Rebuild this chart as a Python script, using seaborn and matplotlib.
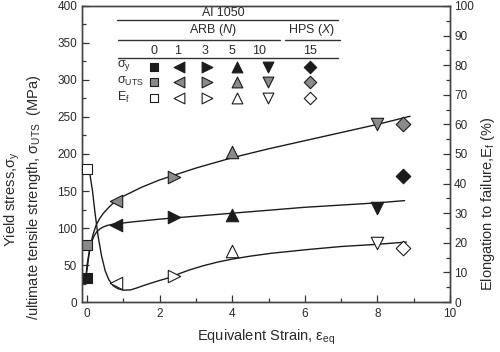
import numpy as np
import pandas as pd
import matplotlib
matplotlib.use("Agg")
import matplotlib.pyplot as plt
import matplotlib.transforms as mtransforms
import seaborn as sns

# ---------------- data ----------------
strain_pts = [0.0, 0.8, 2.4, 4.0, 8.0, 8.7]
pt_labels = ["0", "1", "3", "5", "10", "15"]
sigma_y = [32, 104, 115, 117, 127, 170]
sigma_uts = [77, 136, 169, 203, 241, 241]
elong = [45, 6.4, 8.8, 17.2, 20.0, 18.2]   # % (right axis)

sy_fit_x = [-0.05, 0.0, 0.04, 0.08, 0.13, 0.2, 0.27, 0.36, 0.45, 0.56, 0.7, 0.85, 1.2, 2.0, 3.0, 4.0, 5.0, 6.0, 7.0, 8.0, 8.75]
sy_fit_y = [30, 44, 60, 72, 82, 90, 95, 99, 101.5, 103.5, 105, 106, 108, 112, 116, 120, 124, 128, 131, 134, 137]

uts_fit_x = [-0.02, 0.0, 0.05, 0.1, 0.17, 0.25, 0.35, 0.45, 0.6, 0.75, 1.0, 1.5, 2.0, 2.5, 3.0, 4.0, 5.0, 6.0, 7.0, 8.0, 8.9]
uts_fit_y = [40, 50, 65, 79, 92, 104, 113, 120, 128, 135, 143, 155, 165, 173, 181, 195, 207, 218, 229, 240, 251]

ef_fit_x = [0.0, 0.08, 0.15, 0.22, 0.3, 0.4, 0.5, 0.6, 0.72, 0.85, 1.0, 1.2, 1.37, 1.6, 1.92, 2.2, 2.47, 2.8, 3.2, 3.6, 4.0, 4.5, 5.1, 6.1, 7.0, 8.0, 8.8]
ef_fit_y = [45, 43, 37.5, 30, 22.5, 15.5, 10.5, 7.5, 5.5, 4.5, 4.0, 4.1, 4.75, 5.75, 7.0, 8.0, 9.25, 10.75, 12.25, 13.5, 14.5, 15.5, 16.5, 17.75, 18.75, 19.5, 20.25]

col_labels = ["0", "1", "3", "5", "10", "15"]
markers = {"0": "s", "1": "<", "3": ">", "5": "^", "10": "v", "15": "D"}

# ---------------- style ----------------
sns.set_style("ticks")
plt.rcParams["font.family"] = ["Liberation Sans", "DejaVu Sans"]
plt.rcParams["mathtext.fontset"] = "custom"
plt.rcParams["mathtext.rm"] = "Liberation Sans"
plt.rcParams["mathtext.it"] = "Liberation Sans:italic"
plt.rcParams["mathtext.default"] = "regular"

TXT = "#2a2a2a"
BLACK = "#1c1c1c"
GREY = "#8a8a8a"

fig = plt.figure(figsize=(5.0, 3.52), dpi=100)
ax = fig.add_axes([0.164, 0.142, 0.736, 0.841])
ax2 = ax.twinx()

# fit curves
sns.lineplot(x=sy_fit_x, y=sy_fit_y, ax=ax, color=BLACK, lw=1.0, estimator=None, sort=False)
sns.lineplot(x=uts_fit_x, y=uts_fit_y, ax=ax, color=BLACK, lw=1.0, estimator=None, sort=False)
sns.lineplot(x=ef_fit_x, y=ef_fit_y, ax=ax2, color=BLACK, lw=1.0, estimator=None, sort=False)

# points
for xv, lab, sy, su, ef in zip(strain_pts, pt_labels, sigma_y, sigma_uts, elong):
    m = markers[lab]
    sz = 55 if m in ("s", "D") else 80
    sns.scatterplot(x=[xv], y=[sy], ax=ax, marker=m, s=sz, color=BLACK, edgecolor=BLACK, linewidth=0.8, zorder=5)
    sns.scatterplot(x=[xv], y=[su], ax=ax, marker=m, s=sz, color=GREY, edgecolor=BLACK, linewidth=0.8, zorder=5)
    sns.scatterplot(x=[xv], y=[ef], ax=ax2, marker=m, s=sz, color="white", edgecolor=BLACK, linewidth=0.8, zorder=5)

# axes
ax.set_xlim(-0.14, 10)
ax.set_ylim(0, 400)
ax2.set_ylim(0, 100)
ax.set_xticks(np.arange(0, 11, 2))
ax.set_xticks(np.arange(1, 10, 2), minor=True)
ax.set_yticks(np.arange(0, 401, 50))
ax.set_yticks(np.arange(25, 400, 50), minor=True)
ax2.set_yticks(np.arange(0, 101, 10))
ax2.set_yticks(np.arange(5, 100, 10), minor=True)

for a in (ax, ax2):
    a.tick_params(which="both", direction="in", color="#333333", width=0.9, labelsize=8.5, labelcolor=TXT)
    a.tick_params(which="major", length=5)
    a.tick_params(which="minor", length=3)
    for s in a.spines.values():
        s.set_color("#444444")
        s.set_linewidth(1.0)
ax.tick_params(axis="x", pad=4)
ax2.tick_params(axis="y", pad=3)
ax.tick_params(axis="y", right=False)
ax.tick_params(axis="x", top=False)

ax.set_xlabel(r"Equivalent Strain, $\varepsilon_{\mathrm{eq}}$", fontsize=10.5, color=TXT, labelpad=6)
ax.set_ylabel("")
ax2.set_ylabel("")

fig.text(0.024, 0.435, r"Yield stress,$\sigma_y$", rotation=90, ha="center", va="center", fontsize=10.5, color=TXT)
fig.text(0.068, 0.44, r"/ultimate tensile strength, $\sigma_{UTS}$  (MPa)", rotation=90, ha="center", va="center", fontsize=10.5, color=TXT)
fig.text(0.976, 0.42, r"Elongation to failure,E$_f$ (%)", rotation=90, ha="center", va="center", fontsize=10.5, color=TXT)

# ---------------- table legend (figure pixel coords, y downward) ----------------
px = mtransforms.Affine2D().scale(1 / 500, -1 / 352).translate(0, 1) + fig.transFigure

def hline(x0, x1, y):
    ax.plot([x0, x1], [y, y], transform=px, color="#333333", lw=1.0, clip_on=False)

fs = 9
ax.text(223, 13, "Al 1050", transform=px, ha="center", va="center", fontsize=fs, color=TXT)
hline(117, 338, 20)
ax.text(213, 30, r"ARB ($\mathit{N}$)", transform=px, ha="center", va="center", fontsize=fs, color=TXT)
ax.text(312, 30, r"HPS ($\mathit{X}$)", transform=px, ha="center", va="center", fontsize=fs, color=TXT)
hline(118, 280, 40)
hline(285, 340, 40)
col_x = [154, 178, 205, 232, 259, 310]
for cx, lab in zip(col_x, col_labels):
    ax.text(cx, 51, lab, transform=px, ha="center", va="center", fontsize=fs, color=TXT)
hline(118, 338, 58)

mk_x = [154, 179, 207, 237, 268, 310]
row_y = [67, 82, 98]
row_lab = [r"$\sigma_y$", r"$\sigma_{UTS}$", r"E$_f$"]
row_face = [BLACK, GREY, "white"]
for ry, rl, fc in zip(row_y, row_lab, row_face):
    ax.text(117, ry - 1, rl, transform=px, ha="left", va="center", fontsize=fs, color=TXT)
    for mx, lab in zip(mk_x, col_labels):
        m = markers[lab]
        sz = 40 if m in ("s", "D") else 60
        ax.scatter([mx], [ry], transform=px, marker=m, s=sz, c=fc, edgecolors=BLACK, linewidths=0.8, clip_on=False, zorder=6)

fig.savefig("out.png", dpi=100)
